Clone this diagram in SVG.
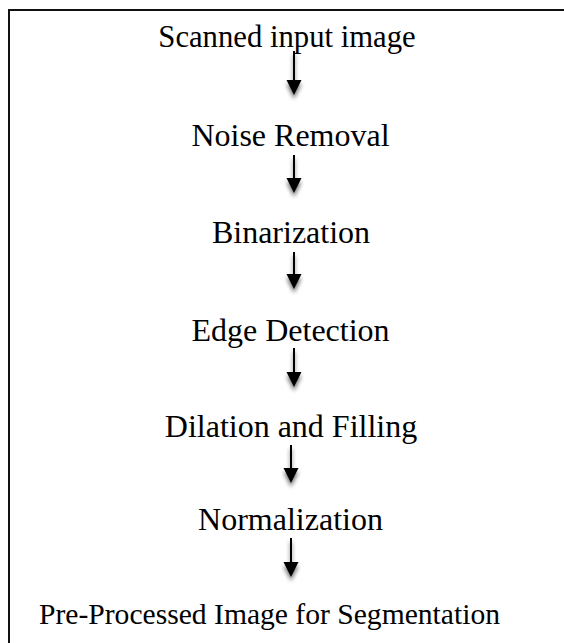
<svg xmlns="http://www.w3.org/2000/svg" width="564" height="643" viewBox="0 0 564 643">
<style>
.t{font-family:'Liberation Serif','Times New Roman',Times,serif;font-size:32px;fill:#000;text-anchor:middle}
.c{stroke:#000;stroke-width:2;fill:none}
.h{fill:#000}
</style>
<defs>
<filter id="sh" x="-100%" y="-50%" width="300%" height="200%">
<feGaussianBlur in="SourceAlpha" stdDeviation="2.2"/>
<feOffset dx="0" dy="4" result="b"/>
<feComponentTransfer><feFuncA type="linear" slope="0.55"/></feComponentTransfer>
<feMerge><feMergeNode/><feMergeNode in="SourceGraphic"/></feMerge>
</filter>
</defs>
<rect width="564" height="643" fill="#fff"/>
<g id="frame" stroke="#111" stroke-width="2" fill="none">
<path d="M9 643 V10 H564"/>
</g>
<g id="connectors" filter="url(#sh)">
<g><line class="c" x1="294" y1="51" x2="294" y2="82"/><polygon class="h" points="286.5,80 301.5,80 294,95"/></g>
<g><line class="c" x1="294" y1="155" x2="294" y2="180"/><polygon class="h" points="286.5,178 301.5,178 294,193"/></g>
<g><line class="c" x1="294" y1="252" x2="294" y2="276"/><polygon class="h" points="286.5,274 301.5,274 294,289"/></g>
<g><line class="c" x1="294" y1="348" x2="294" y2="374"/><polygon class="h" points="286.5,372 301.5,372 294,387"/></g>
<g><line class="c" x1="291" y1="445" x2="291" y2="470"/><polygon class="h" points="283.5,468 298.5,468 291,483"/></g>
<g><line class="c" x1="291" y1="538" x2="291" y2="564"/><polygon class="h" points="283.5,562 298.5,562 291,577"/></g>
</g>
<g id="n1"><text class="t" x="287" y="47" style="font-size:30.7px">Scanned input image</text></g>
<g id="n2"><text class="t" x="290.5" y="146">Noise Removal</text></g>
<g id="n3"><text class="t" x="291" y="243">Binarization</text></g>
<g id="n4"><text class="t" x="290.5" y="341">Edge Detection</text></g>
<g id="n5"><text class="t" x="291" y="437">Dilation and Filling</text></g>
<g id="n6"><text class="t" x="290.5" y="530">Normalization</text></g>
<g id="n7"><text class="t" x="269.5" y="624" style="font-size:29.6px">Pre-Processed Image for Segmentation</text></g>
</svg>
